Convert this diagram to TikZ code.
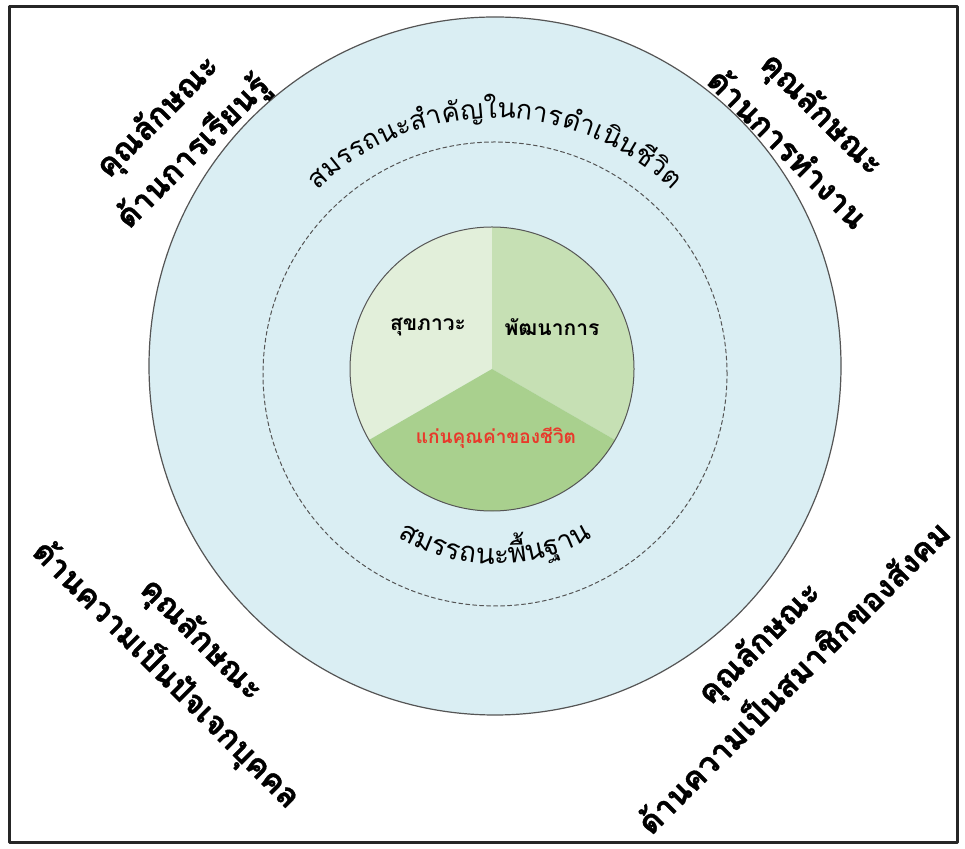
\documentclass[tikz,border=0pt]{standalone}
\usepackage{fontspec}
\newfontfamily\thaifont[Script=Thai]{Loma}
\newfontfamily\thaiheavy[Script=Thai,BoldFeatures={FakeBold=1.2}]{Loma}
\usetikzlibrary{decorations.text}
\definecolor{outerblue}{HTML}{DAEEF3}
\definecolor{pieA}{HTML}{E2EFDA}
\definecolor{pieB}{HTML}{C6E0B4}
\definecolor{pieC}{HTML}{A9D08E}
\definecolor{coretext}{HTML}{E8392B}
\definecolor{rimgray}{HTML}{555555}

\begin{document}
\begin{tikzpicture}[line cap=round,line join=round,x=1pt,y=1pt,
  corner/.style={font=\thaiheavy\bfseries\fontsize{32}{50}\selectfont,align=center,inner sep=0pt},
  sector/.style={font=\thaifont\bfseries\fontsize{21}{24}\selectfont,inner sep=0pt}]
\useasboundingbox (0,0) rectangle (965,848);
\fill [white] (0,0) rectangle (965,848);
\draw [line width=3pt,color=black!85] (9,6) rectangle (957,841);
% outer ring and dashed ring
\draw [fill=outerblue,draw=rimgray,line width=1.2pt] (495,482) ellipse [x radius=346,y radius=349];
\draw [dash pattern=on 4pt off 3pt,line width=1pt,draw=rimgray] (495,474) circle [radius=232];
% pie in the middle
\coordinate (core) at (492,479);
\fill [pieA] (core) -- ++(90:142) arc [start angle=90,end angle=210,radius=142] -- cycle;
\fill [pieB] (core) -- ++(-30:142) arc [start angle=-30,end angle=90,radius=142] -- cycle;
\fill [pieC] (core) -- ++(210:142) arc [start angle=210,end angle=330,radius=142] -- cycle;
\draw [draw=rimgray,line width=1pt] (core) circle [radius=142];
\node [sector] (health) at (428,521) {สุขภาวะ};
\node [sector] (growth) at (552,521) {พัฒนาการ};
\node [sector,text=coretext,font=\thaifont\bfseries\fontsize{19}{22}\selectfont] (corevalue) at (496,410) {แก่นคุณค่าของชีวิต};
% texts along the rings
\coordinate (ringc) at (495,476);
\path [decorate,decoration={text along path,text align=center,
  text={|\thaifont\fontsize{27}{29}\selectfont|สมรรถนะ{สำ}{คั}ญในการ{ดำ}เ{นิ}น{ชี}{วิ}ต}}]
  (ringc) ++(150:254) arc [start angle=150,end angle=30,radius=254];
\path [decorate,decoration={text along path,text align=center,
  text={|\thaifont\fontsize{28}{30}\selectfont|สมรรถนะ{พื้}นฐาน}}]
  (ringc) ++(210:192) arc [start angle=210,end angle=330,radius=192];
% corner labels
\node [corner,rotate=45] (learning) at (176,713) {คุณลักษณะ\\ด้านการเรียนรู้};
\node [corner,rotate=-45] (working) at (806,718) {คุณลักษณะ\\ด้านการทำงาน};
\node [corner,rotate=-45] (individual) at (183,190) {คุณลักษณะ\\ด้านความเป็นปัจเจกบุคคล};
\node [corner,rotate=45] (society) at (775,189) {คุณลักษณะ\\ด้านความเป็นสมาชิกของสังคม};
\end{tikzpicture}
\end{document}
